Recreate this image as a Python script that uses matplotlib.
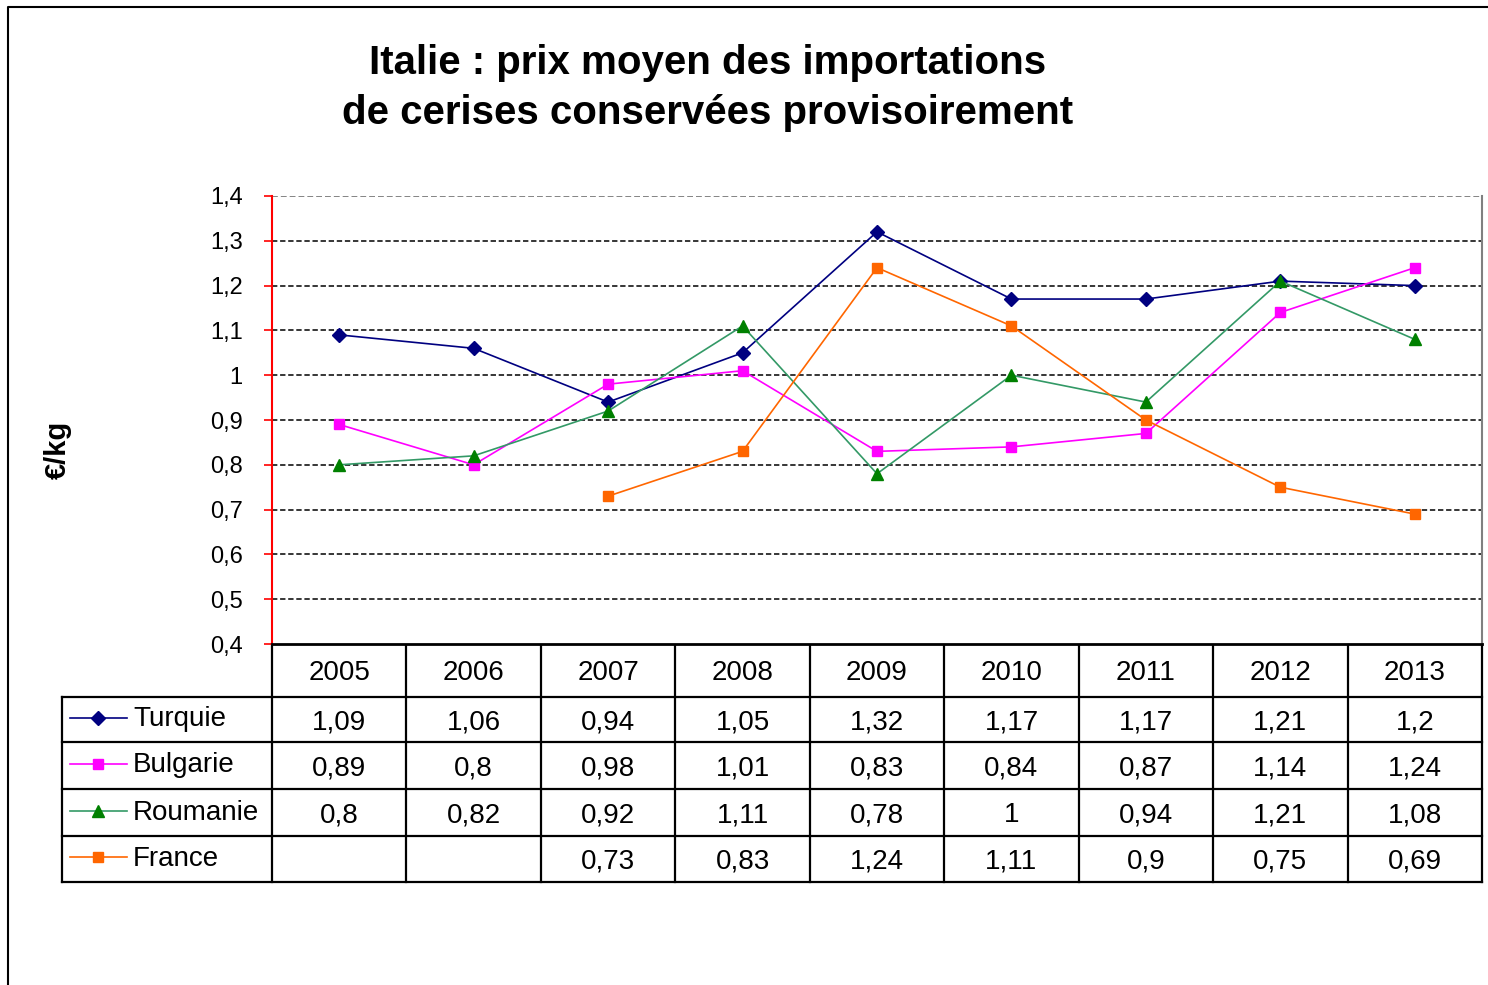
import numpy as np
import matplotlib
matplotlib.use("Agg")
import matplotlib.pyplot as plt

# data ######################################################################
years = [2005, 2006, 2007, 2008, 2009, 2010, 2011, 2012, 2013]
turquie = [1.09, 1.06, 0.94, 1.05, 1.32, 1.17, 1.17, 1.21, 1.2]
bulgarie = [0.89, 0.8, 0.98, 1.01, 0.83, 0.84, 0.87, 1.14, 1.24]
roumanie = [0.8, 0.82, 0.92, 1.11, 0.78, 1.0, 0.94, 1.21, 1.08]
france = [np.nan, np.nan, 0.73, 0.83, 1.24, 1.11, 0.9, 0.75, 0.69]
y_ticks = [0.4, 0.5, 0.6, 0.7, 0.8, 0.9, 1.0, 1.1, 1.2, 1.3, 1.4]

series = [
    # name, values, line colour, marker, marker colour
    ("Turquie", turquie, "#000080", "D", "#000080"),
    ("Bulgarie", bulgarie, "#FF00FF", "s", "#FF00FF"),
    ("Roumanie", roumanie, "#339966", "^", "#008000"),
    ("France", france, "#FF6600", "s", "#FF6600"),
]

def fr(v):
    # excel "general" number format, french decimal comma
    if np.isnan(v):
        return ""
    return ("%g" % v).replace(".", ",")

W, H = 1488, 985
plt.rcParams['font.family'] = ['Liberation Sans', 'DejaVu Sans']
fig = plt.figure(figsize=(W / 100, H / 100), dpi=100)

# plot area in pixels
L, R, T, B = 272, 1482, 196, 644
ax = fig.add_axes([L / W, 1 - B / H, (R - L) / W, (B - T) / H])

x = np.arange(len(years))
for name, vals, c, m, mc in series:
    ms = 9 if m == "^" else 7.5
    ax.plot(x, vals, color=c, lw=1.2, marker=m, ms=ms, mfc=mc, mec=mc, zorder=3)

ax.set_xlim(-0.5, len(years) - 0.5)
ax.set_ylim(0.4, 1.4)
ax.set_yticks(y_ticks)
ax.set_yticklabels([fr(v) for v in y_ticks],
                   family=['Liberation Sans Narrow', 'Liberation Sans'], fontsize=17)
ax.set_xticks([])
ax.tick_params(axis='y', direction='out', length=6, width=1.2, color='red', pad=15)
for v in y_ticks[1:-1]:
    ax.axhline(v, color='black', lw=1.1, ls=(0, (3.5, 1.8)), zorder=1)
ax.axhline(1.4, color='#707070', lw=1.2, ls=(0, (3.5, 1.8)), zorder=1)
ax.spines['top'].set_visible(False)
ax.spines['left'].set_color('red')
ax.spines['left'].set_linewidth(1.5)
ax.spines['right'].set_color('#808080')
ax.spines['right'].set_linewidth(1.5)
ax.spines['bottom'].set_linewidth(2)

# overlay in pixel coordinates for table, title, frame #####################
ov = fig.add_axes([0, 0, 1, 1], zorder=-1)
ov.set_xlim(0, W)
ov.set_ylim(H, 0)
ov.axis('off')

fig.text(708 / W, 1 - 88 / H,
         "Italie : prix moyen des importations\nde cerises conservées provisoirement",
         ha='center', va='center', fontsize=29, fontweight='bold', linespacing=1.38)
fig.text(58 / W, 1 - 450 / H, "€/kg", rotation=90, ha='center', va='center',
         fontsize=21, fontweight='bold')

# outer chart frame
ov.plot([8, 8, W + 5], [H + 5, 7, 7], color='black', lw=1.5)

# data table
colw = (R - L) / len(years)
col_edges = [L + i * colw for i in range(len(years) + 1)]
row_edges = [B, 697, 742, 789, 836, 882]
leg_left = 62
lk = dict(color='black', lw=1.6, solid_capstyle='projecting')
for xe in col_edges:
    ov.plot([xe, xe], [B, row_edges[-1]], **lk)
ov.plot([leg_left, leg_left], [row_edges[1], row_edges[-1]], **lk)
for ye in row_edges[1:]:
    ov.plot([leg_left, R], [ye, ye], **lk)

for i, yr in enumerate(years):
    cx = L + (i + 0.5) * colw
    ov.text(cx, (row_edges[0] + row_edges[1]) / 2 + 3, str(yr), ha='center', va='center', fontsize=20)

for r, (name, vals, c, m, mc) in enumerate(series):
    cy = (row_edges[r + 1] + row_edges[r + 2]) / 2
    ov.plot([70, 127], [cy - 2, cy - 2], color=c, lw=1.2)
    ov.plot([98], [cy - 2], marker=m, ms=9 if m == "^" else 7.5, color=mc, ls='none')
    ov.text(133, cy, name, ha='left', va='center', fontsize=20)
    for i, v in enumerate(vals):
        cx = L + (i + 0.5) * colw
        ov.text(cx, cy + 3, fr(v), ha='center', va='center', fontsize=20)

fig.savefig("out.png", dpi=100)
